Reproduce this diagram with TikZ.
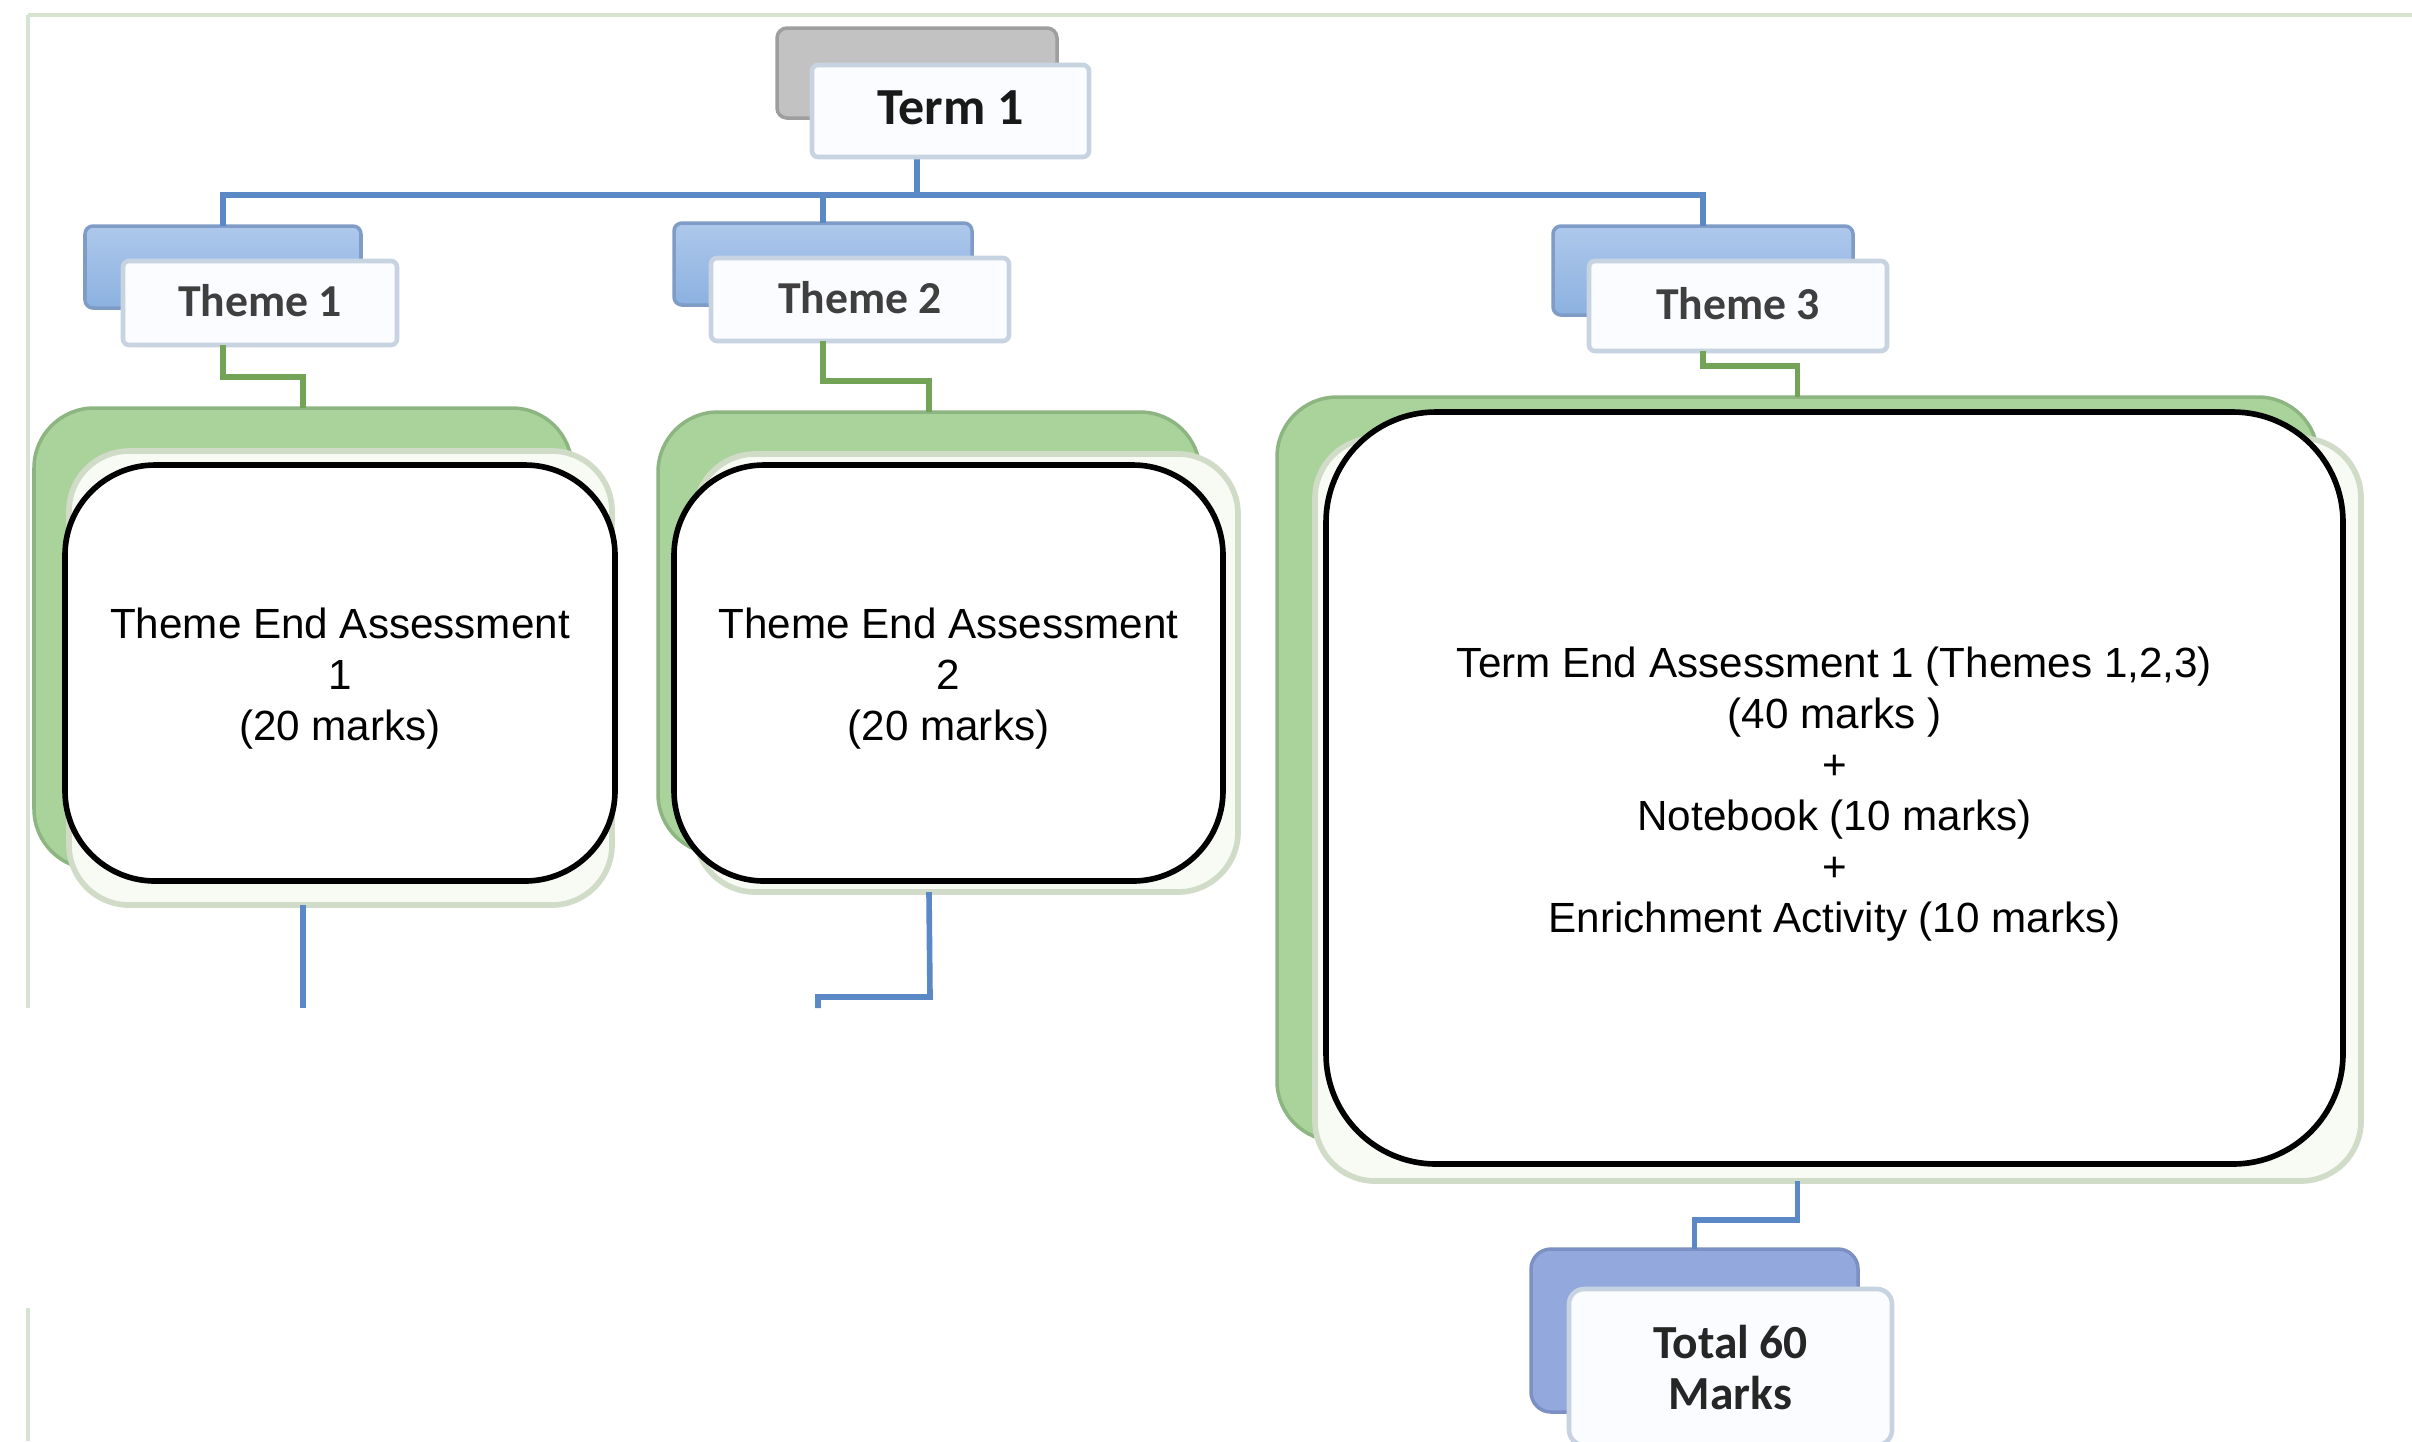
\documentclass[tikz,border=0pt]{standalone}
\usepackage{fontspec}
\setmainfont{Liberation Sans}
\newfontfamily\calfont{Carlito}
\usetikzlibrary{fit,calc}
\definecolor{frameC}{HTML}{D6E3CF}
\definecolor{grayB}{HTML}{C2C2C2}
\definecolor{grayD}{HTML}{9E9E9E}
\definecolor{blueT}{HTML}{ADC8EB}
\definecolor{blueBt}{HTML}{8CB1E0}
\definecolor{blueD}{HTML}{7E9CC6}
\definecolor{hfrontF}{HTML}{FAFCFF}
\definecolor{hfrontD}{HTML}{C8D3E2}
\definecolor{greenB}{HTML}{A9D39A}
\definecolor{greenD}{HTML}{8DB582}
\definecolor{gfrontF}{HTML}{F7FBF4}
\definecolor{gfrontD}{HTML}{D0DBC8}
\definecolor{lineB}{HTML}{5B89C6}
\definecolor{lineG}{HTML}{72A357}
\definecolor{totB}{HTML}{93A8DC}
\definecolor{totD}{HTML}{7C90C4}
\definecolor{txtG}{HTML}{3F3F3F}
\tikzset{
  bx/.style={inner sep=0pt, outer sep=0pt},
  grayback/.style={bx, fill=grayB, draw=grayD, line width=1pt, rounded corners=0.1cm},
  blueback/.style={bx, top color=blueT, bottom color=blueBt, draw=blueD, line width=1pt, rounded corners=0.08cm},
  totback/.style={bx, fill=totB, draw=totD, line width=1pt, rounded corners=0.2cm},
  hfront/.style={bx, fill=hfrontF, draw=hfrontD, line width=1.3pt, rounded corners=0.06cm},
  gback/.style={bx, fill=greenB, draw=greenD, line width=1pt, rounded corners=0.6cm},
  gfront/.style={bx, fill=gfrontF, draw=gfrontD, line width=1.6pt, rounded corners=0.6cm},
  mainbox/.style={bx, fill=white, draw=black, line width=1.6pt},
  maintxt/.style={align=center, font=\fontsize{12}{14.5}\selectfont, yshift=-0.06cm},
  headtxt/.style={font=\calfont\bfseries\fontsize{14.8}{16}\selectfont, text=black!90, yshift=0.03cm},
  themetxt/.style={font=\calfont\bfseries\fontsize{13}{15}\selectfont, text=txtG, yshift=0.02cm},
  bl/.style={draw=lineB, line width=1.6pt},
  gl/.style={draw=lineG, line width=1.6pt},
  frm/.style={draw=frameC, line width=1pt}
}
\begin{document}
\begin{tikzpicture}[x=0.01cm,y=-0.01cm]
\useasboundingbox (0,0) rectangle (2412,1441);
\fill[white] (0,0) rectangle (2412,1441);
% frame lines
\draw[frm] (28,15) -- (2412,15);
\draw[frm] (28,15) -- (28,1008);
\draw[frm] (28,1308) -- (28,1441);

\coordinate (bus) at (0,195);

% back boxes first
\node[grayback, fit={(777,28) (1057,118)}] (termB) {};
\node[blueback, fit={(85,226) (361,308)}] (th1B) {};
\node[blueback, fit={(674,223) (972,305)}] (th2B) {};
\node[blueback, fit={(1553,226) (1853,315)}] (th3B) {};

% blue top connectors
\draw[bl] (termB.south) -- (termB.south |- bus);
\draw[bl] (th1B.north) -- (th1B.north |- bus) -- (th3B.north |- bus) -- (th3B.north);
\draw[bl] (th2B.north) -- (th2B.north |- bus);

% green back boxes
\node[gback, fit={(34,408) (572,869)}] (g1B) {};
\node[gback, fit={(658,412) (1200,854)}] (g2B) {};
\node[gback, fit={(1277,397) (2318,1141)}] (g3B) {};

% front header boxes
\node[hfront, fit={(812,65) (1089,157)}] (termF) {};
\node[headtxt] (termT) at (termF.center) {Term 1};
\node[hfront, fit={(123,261) (397,345)}] (th1F) {};
\node[themetxt] (th1T) at (th1F.center) {Theme 1};
\node[hfront, fit={(711,258) (1009,341)}] (th2F) {};
\node[themetxt] (th2T) at (th2F.center) {Theme 2};
\node[hfront, fit={(1589,261) (1887,351)}] (th3F) {};
\node[themetxt] (th3T) at (th3F.center) {Theme 3};

% green connectors
\draw[gl] (th1B.center |- th1F.south) -- ++(0,32) -| (g1B.north);
\draw[gl] (th2B.center |- th2F.south) -- ++(0,40) -| (g2B.north);
\draw[gl] (th3B.center |- th3F.south) -- ++(0,15) -| (g3B.north);

% light front green boxes
\node[gfront, fit={(69,451) (612,905)}] (g1F) {};
\node[gfront, fit={(695,454) (1238,892)}] (g2F) {};
\node[gfront, fit={(1315,438) (2361,1181)}] (g3F) {};

% main boxes
\node[mainbox, rounded corners=0.9cm, fit={(65,465) (615,881)}] (a1) {};
\node[maintxt] (a1T) at (a1.center) {Theme End Assessment\\1\\(20 marks)};
\node[mainbox, rounded corners=0.9cm, fit={(674,465) (1223,881)}] (a2) {};
\node[maintxt] (a2T) at (a2.center) {Theme End Assessment\\2\\(20 marks)};
\node[mainbox, rounded corners=1.1cm, fit={(1326,412) (2343,1164)}] (a3) {};
\node[maintxt] (a3T) at (a3.center) {Term End Assessment 1 (Themes 1,2,3)\\(40 marks )\\+\\Notebook (10 marks)\\+\\Enrichment Activity (10 marks)};

% total box
\node[totback, fit={(1531,1249) (1858,1412)}] (totB) {};
\node[hfront, rounded corners=0.15cm, fit={(1569,1289) (1892,1445)}] (totF) {};
\node[align=center, font=\calfont\bfseries\fontsize{13.5}{14.5}\selectfont, text=black!85] (totT) at (totF.center) {Total 60\\Marks};

% lower blue connectors
\coordinate (end1) at (303,1008);
\coordinate (end2) at (818,1008);
\draw[bl] (g1B.center |- g1F.south) -- (end1);
\draw[bl] (g2B.center |- g2F.south) -- (930,997) -- (818,997) -- (end2);
\draw[bl] (g3B.center |- g3F.south) -- ++(0,39) -| (totB.north);
\end{tikzpicture}
\end{document}
